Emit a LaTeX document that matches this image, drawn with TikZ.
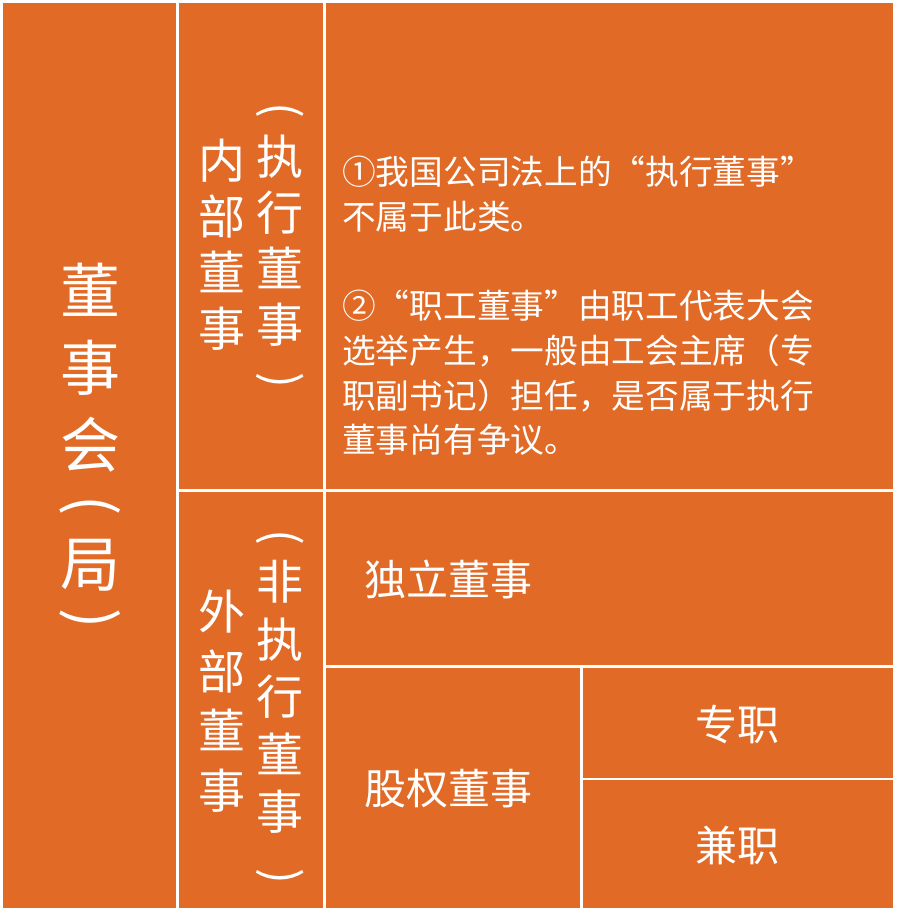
\documentclass[tikz,border=0pt]{standalone}
\usepackage{fontspec}
\usepackage{graphicx}
\setmainfont{Noto Sans CJK SC}
\definecolor{boardorange}{RGB}{224,106,38}
% strut of one ideographic em box, and the turned brackets of vertical text
\newcommand{\vs}{\rule[-0.12em]{0pt}{1em}}
\newcommand{\vopen}[1][0pt]{\vs\raisebox{\dimexpr0.09em-#1\relax}{\rotatebox[origin=c]{-90}{(}}}
\newcommand{\vclose}[1][0pt]{\vs\raisebox{\dimexpr0.09em-#1\relax}{\rotatebox[origin=c]{-90}{)}}}

\begin{document}
\begin{tikzpicture}[x=1pt,y=-1pt,
                    cellline/.style={draw=white,line width=2.5pt},
                    vtext/.style={text=white,align=center,inner sep=0pt,
                                  font=\fontsize{47}{56}\selectfont},
                    htext/.style={text=white,inner sep=0pt,
                                  font=\fontsize{42}{50}\selectfont}]

 \fill[white] (0,0) rectangle (896,912);
 \useasboundingbox (0,0) rectangle (896,912);
 \fill[boardorange] (1.5,1.5) rectangle (894.5,909.5);

 % grid of the table
 \draw[cellline] (1.5,1.5) rectangle (894.5,909.5);
 \draw[cellline] (177.5,0) -- (177.5,912);
 \draw[cellline] (324.5,0) -- (324.5,912);
 \draw[cellline] (177.5,490.5) -- (896,490.5);
 \draw[cellline] (324.5,666.5) -- (896,666.5);
 \draw[cellline] (581.5,666.5) -- (581.5,912);
 \draw[cellline] (581.5,779) -- (896,779);

 \node[vtext,font=\fontsize{60}{77}\selectfont] (board) at (90,455)
      {\vs 董\\事\\会\\[-15pt]\vopen\\[-20pt]局\\[-21pt]\vclose};

 \node[vtext] (inner)  at (222,245) {\vs 内\\部\\董\\\vs 事};
 \node[vtext] (innerx) at (280,241) {\vopen[10pt]\\执\\行\\董\\事\\\vclose};

 \node[vtext,font=\fontsize{47}{59.6}\selectfont] (outer)  at (222,701)
      {\vs 外\\部\\董\\\vs 事};
 \node[vtext,font=\fontsize{47}{57.5}\selectfont] (outerx) at (280,697)
      {\vopen[13.5pt]\\非\\执\\行\\董\\事\\\vclose[7.5pt]};

 \node[text=white,anchor=north west,align=left,inner sep=0pt,
       font=\fontsize{33.7}{44.7}\selectfont] (note) at (342,156)
      {①我国公司法上的“执行董事”\\不属于此类。\\[44.7pt]%
       ②“职工董事”由职工代表大会\\选举产生，一般由工会主席（专\\%
       职副书记）担任，是否属于执行\\董事尚有争议。};

 \node[htext] (indep)  at (448,579) {独立董事};
 \node[htext] (equity) at (448,789) {股权董事};
 \node[htext] (full)   at (737,725) {专职};
 \node[htext] (part)   at (737,845) {兼职};

\end{tikzpicture}
\end{document}
